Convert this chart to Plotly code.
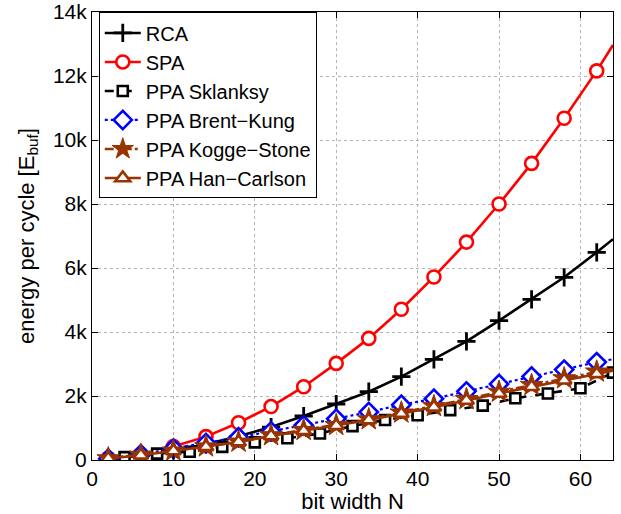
import plotly.graph_objects as go

# ---- data ----
n_main = [2, 6, 10, 14, 18, 22, 26, 30, 34, 38, 42, 46, 50, 54, 58, 62, 64]
rca = [40, 140, 300, 490, 740, 1030, 1375, 1750, 2135, 2605, 3145, 3710, 4355, 5020, 5710, 6490, 6900]
spa = [55, 175, 420, 730, 1165, 1670, 2290, 3020, 3800, 4710, 5720, 6810, 8000, 9270, 10680, 12160, 12970]
brent_kung = [40, 180, 360, 530, 710, 895, 1085, 1290, 1500, 1725, 1915, 2145, 2375, 2610, 2825, 3060, 3150]
kogge_stone = [50, 160, 290, 420, 570, 770, 935, 1090, 1270, 1480, 1680, 1900, 2130, 2340, 2550, 2760, 2850]
han_carlson = [45, 150, 280, 410, 560, 750, 910, 1070, 1250, 1450, 1650, 1860, 2080, 2290, 2490, 2690, 2790]

n_skl = [2, 4, 8, 12, 16, 20, 24, 28, 32, 36, 40, 44, 48, 52, 56, 60, 64]
sklansky = [40, 90, 200, 260, 410, 550, 680, 830, 1060, 1250, 1400, 1560, 1700, 1930, 2080, 2240, 2730]

y_ticks = [0, 2000, 4000, 6000, 8000, 10000, 12000, 14000]
y_tick_labels = ["0", "2k", "4k", "6k", "8k", "10k", "12k", "14k"]
x_ticks = [0, 10, 20, 30, 40, 50, 60]

BROWN = "#993300"
FONT = "Liberation Sans, Arial, Helvetica, sans-serif"

series = [
    # name, x, y, marker slice, color, dash, width, symbol, size, fill, mline
    ("RCA", n_main, rca, slice(0, 16), "black", "solid", 2.6, "cross-thin", 13, "black", 2.8),
    ("SPA", n_main, spa, slice(0, 16), "#ff0000", "solid", 2.6, "circle", 13, "white", 2.6),
    ("PPA Sklanksy", n_skl, sklansky, slice(1, 17), "black", "dash", 2.6, "square", 10, "white", 2.6),
    ("PPA Brent\u2212Kung", n_main, brent_kung, slice(0, 16), "#0000ff", "dot", 2.2, "diamond", 14, "white", 2.6),
    ("PPA Kogge\u2212Stone", n_main, kogge_stone, slice(0, 16), BROWN, "dashdot", 2.6, "star", 17, BROWN, 1),
    ("PPA Han\u2212Carlson", n_main, han_carlson, slice(0, 16), BROWN, "solid", 2.6, "triangle-up", 13, "white", 2.6),
]

fig = go.Figure()
for name, xs, ys, sl, color, dash, lw, sym, size, fill, mlw in series:
    # the curve
    fig.add_trace(go.Scatter(x=xs, y=ys, mode="lines", showlegend=False,
                             line=dict(color=color, dash=dash, width=lw), hoverinfo="skip"))
    # the markers
    fig.add_trace(go.Scatter(x=xs[sl], y=ys[sl], mode="markers", showlegend=False,
                             marker=dict(symbol=sym, size=size, color=fill,
                                         line=dict(color=color, width=mlw))))
    # legend entry
    fig.add_trace(go.Scatter(x=[None], y=[None], mode="lines+markers", name=name,
                             line=dict(color=color, dash=dash, width=lw),
                             marker=dict(symbol=sym, size=size, color=fill,
                                         line=dict(color=color, width=mlw))))

axis_common = dict(
    showline=True, linecolor="black", linewidth=1, mirror="ticks",
    ticks="inside", ticklen=6, tickcolor="black", tickwidth=1,
    showgrid=True, gridcolor="#b4b4b4", griddash="dot", gridwidth=1,
    zeroline=False, automargin=False,
    tickfont=dict(family=FONT, size=21, color="black"),
)

fig.update_layout(
    width=621, height=514,
    margin=dict(l=92, r=8, t=12, b=54),
    paper_bgcolor="white", plot_bgcolor="white",
    font=dict(family=FONT, color="black"),
    xaxis=dict(range=[0, 64], tickvals=x_ticks,
               title=dict(text="bit width N", font=dict(family=FONT, size=22), standoff=9),
               **axis_common),
    yaxis=dict(range=[0, 14000], tickvals=y_ticks, ticktext=y_tick_labels,
               title=dict(text="energy per cycle [E<sub>buf</sub>]", font=dict(family=FONT, size=22), standoff=12),
               **axis_common),
    legend=dict(x=0.013, y=0.999, xanchor="left", yanchor="top",
                bgcolor="white", bordercolor="black", borderwidth=1,
                font=dict(family=FONT, size=20, color="black"),
                tracegroupgap=0, itemwidth=36),
)

fig.write_html("out.html")
